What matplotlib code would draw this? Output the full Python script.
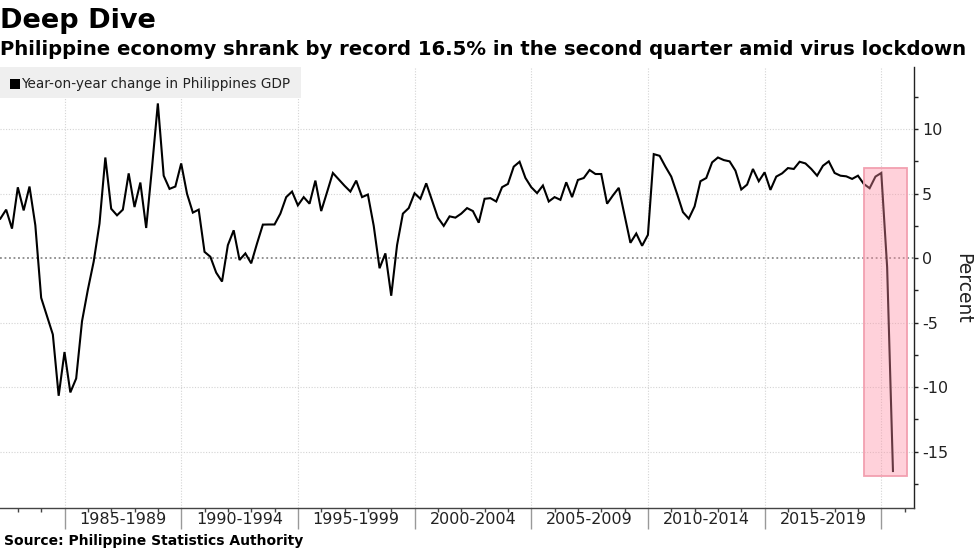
import matplotlib
matplotlib.use("Agg")
import matplotlib.pyplot as plt
import matplotlib.transforms as mtransforms
from matplotlib.patches import Rectangle
from matplotlib.ticker import MultipleLocator, FixedLocator, NullFormatter
import pandas as pd
import numpy as np

plt.rcParams['font.family'] = ['DejaVu Sans']
plt.rcParams['axes.unicode_minus'] = False

# ---------------- data ----------------
start_quarter = "1982Q1"
end_quarter = "2020Q2"
gdp_yoy = [
    3.05, 3.75, 2.28, 5.48,      # 1982
    3.69, 5.54, 2.54, -3.08,     # 1983
    -4.5, -5.92, -10.67, -7.28,  # 1984
    -10.41, -9.33, -4.9, -2.46,  # 1985
    -0.28, 2.67, 7.79, 3.82,     # 1986
    3.31, 3.75, 6.56, 3.95,      # 1987
    5.85, 2.33, 7.02, 11.98,     # 1988
    6.38, 5.36, 5.54, 7.33,      # 1989
    4.98, 3.52, 3.75, 0.48,      # 1990
    0.1, -1.13, -1.82, 1.0,      # 1991
    2.15, -0.15, 0.36, -0.41,    # 1992
    1.13, 2.59, 2.6, 2.6,        # 1993
    3.44, 4.72, 5.15, 4.08,      # 1994
    4.72, 4.21, 6.0, 3.64,       # 1995
    5.1, 6.59, 6.1, 5.6,         # 1996
    5.15, 6.0, 4.72, 4.92,       # 1997
    2.5, -0.79, 0.36, -2.92,     # 1998
    1.0, 3.44, 3.87, 5.02,       # 1999
    4.59, 5.79, 4.46, 3.13,      # 2000
    2.49, 3.23, 3.13, 3.44,      # 2001
    3.87, 3.64, 2.74, 4.59,      # 2002
    4.64, 4.38, 5.49, 5.74,      # 2003
    7.08, 7.46, 6.21, 5.49,      # 2004
    5.03, 5.62, 4.38, 4.72,      # 2005
    4.51, 5.87, 4.72, 6.05,      # 2006
    6.2, 6.82, 6.51, 6.51,       # 2007
    4.21, 4.85, 5.44, 3.3,       # 2008
    1.18, 1.9, 0.95, 1.8,        # 2009
    8.05, 7.92, 7.08, 6.31,      # 2010
    4.97, 3.56, 3.05, 4.0,       # 2011
    5.95, 6.2, 7.41, 7.79,       # 2012
    7.59, 7.49, 6.77, 5.31,      # 2013
    5.69, 6.9, 5.95, 6.64,       # 2014
    5.28, 6.31, 6.56, 6.97,      # 2015
    6.9, 7.46, 7.33, 6.9,        # 2016
    6.38, 7.15, 7.49, 6.59,      # 2017
    6.38, 6.33, 6.13, 6.38,      # 2018
    5.74, 5.41, 6.31, 6.59,      # 2019
    -0.7, -16.5,                 # 2020
]
period_labels = ["1985-1989", "1990-1994", "1995-1999", "2000-2004",
                 "2005-2009", "2010-2014", "2015-2019"]
period_starts = [1985, 1990, 1995, 2000, 2005, 2010, 2015]
major_years = [1985, 1990, 1995, 2000, 2005, 2010, 2015, 2020]
y_ticks = [-15, -10, -5, 0, 5, 10]

series_label = "Year-on-year change in Philippines GDP"
title = "Deep Dive"
subtitle = "Philippine economy shrank by record 16.5% in the second quarter amid virus lockdown"
source = "Source: Philippine Statistics Authority"

# highlight box (data coords)
hl_x0, hl_x1 = 2019.25, 2021.1
hl_y0, hl_y1 = -16.9, 7.0

# ---------------- positions ----------------
periods = pd.period_range(start_quarter, end_quarter, freq="Q")
x = np.array([p.year + p.quarter / 4.0 for p in periods])
y = np.array(gdp_yoy)

# ---------------- figure ----------------
W, H = 977, 549
fig = plt.figure(figsize=(W / 100, H / 100), dpi=100)
ax_left, ax_right, ax_top, ax_bottom = 0, 913.5, 67, 507.7
ax = fig.add_axes([ax_left / W, 1 - ax_bottom / H,
                   (ax_right - ax_left) / W, (ax_bottom - ax_top) / H])

ax.set_xlim(1982.236, 2021.38)
ax.set_ylim(-19.34, 14.8)

# gridlines
for yt in y_ticks:
    if yt == 0:
        ax.axhline(0, color="#8a8a8a", lw=1.3, ls=(0, (1, 1.5)), zorder=1)
    else:
        ax.axhline(yt, color="#d4d4d4", lw=0.8, ls=(0, (1, 1.5)), zorder=1)
for xv in major_years:
    ax.axvline(xv, color="#d4d4d4", lw=0.8, ls=(0, (1, 1.5)), zorder=1)

ax.plot(x, y, color="black", lw=1.5, zorder=3, solid_joinstyle="miter")

ax.add_patch(Rectangle((hl_x0, hl_y0), hl_x1 - hl_x0, hl_y1 - hl_y0,
                       facecolor="#ff8ea3", alpha=0.4, edgecolor="none", zorder=4))
ax.add_patch(Rectangle((hl_x0, hl_y0), hl_x1 - hl_x0, hl_y1 - hl_y0,
                       facecolor="none", edgecolor="#f2a0b0", lw=1.3, zorder=4))

# spines
for s in ["left", "top"]:
    ax.spines[s].set_visible(False)
ax.spines["right"].set_color("#222222")
ax.spines["bottom"].set_color("#444444")
ax.spines["right"].set_linewidth(1.0)
ax.spines["bottom"].set_linewidth(1.0)

# y axis on right
ax.yaxis.tick_right()
ax.yaxis.set_major_locator(FixedLocator(y_ticks))
ax.yaxis.set_minor_locator(MultipleLocator(2.5))
ax.tick_params(axis="y", which="major", length=3, width=1, color="#222222",
               pad=3, labelsize=11.5, labelcolor="#222222", direction="out")
ax.tick_params(axis="y", which="minor", length=3, width=1, color="#222222", direction="out")

# x axis
ax.xaxis.set_major_locator(FixedLocator(major_years))
ax.xaxis.set_minor_locator(MultipleLocator(1))
ax.xaxis.set_major_formatter(NullFormatter())
ax.tick_params(axis="x", which="major", length=15, width=1, color="#999999", direction="out")
ax.tick_params(axis="x", which="minor", length=3, width=1, color="#444444", direction="out")

trans = mtransforms.blended_transform_factory(ax.transData, ax.transAxes)
offs = mtransforms.ScaledTranslation(0, -11.5 / 100, fig.dpi_scale_trans)
for lab, st in zip(period_labels, period_starts):
    ax.text(st + 2.5, 0, lab, transform=trans + offs, ha="center", va="center",
            fontsize=11.5, color="#222222")

# legend box (manual)
ax_w = ax_right - ax_left
ax_h = ax_bottom - ax_top
ax.add_patch(Rectangle((0, 1 - 31 / ax_h), 301 / ax_w, 31 / ax_h, transform=ax.transAxes,
                       facecolor="#efefef", edgecolor="none", zorder=5))
ax.add_patch(Rectangle((9.5 / ax_w, 1 - 22 / ax_h), 10 / ax_w, 10 / ax_h, transform=ax.transAxes,
                       facecolor="black", edgecolor="none", zorder=6))
ax.text(21.5 / ax_w, 1 - 16.5 / ax_h, series_label, transform=ax.transAxes,
        ha="left", va="center", fontsize=9.8, color="#222222", zorder=6)

# titles
fig.text(0.0, 1 - 28 / H, title, fontsize=19.5, fontweight="bold", va="baseline", ha="left")
fig.text(0.0, 1 - 55 / H, subtitle, fontsize=14.15, fontweight="bold", va="baseline", ha="left")
fig.text(4 / W, 1 - 545 / H, source, fontsize=10, fontweight="bold", va="baseline", ha="left")
fig.text(963 / W, 1 - 288 / H, "Percent", rotation=270, fontsize=13.5,
         ha="center", va="center", color="#222222")

fig.savefig("out.png", dpi=100)
